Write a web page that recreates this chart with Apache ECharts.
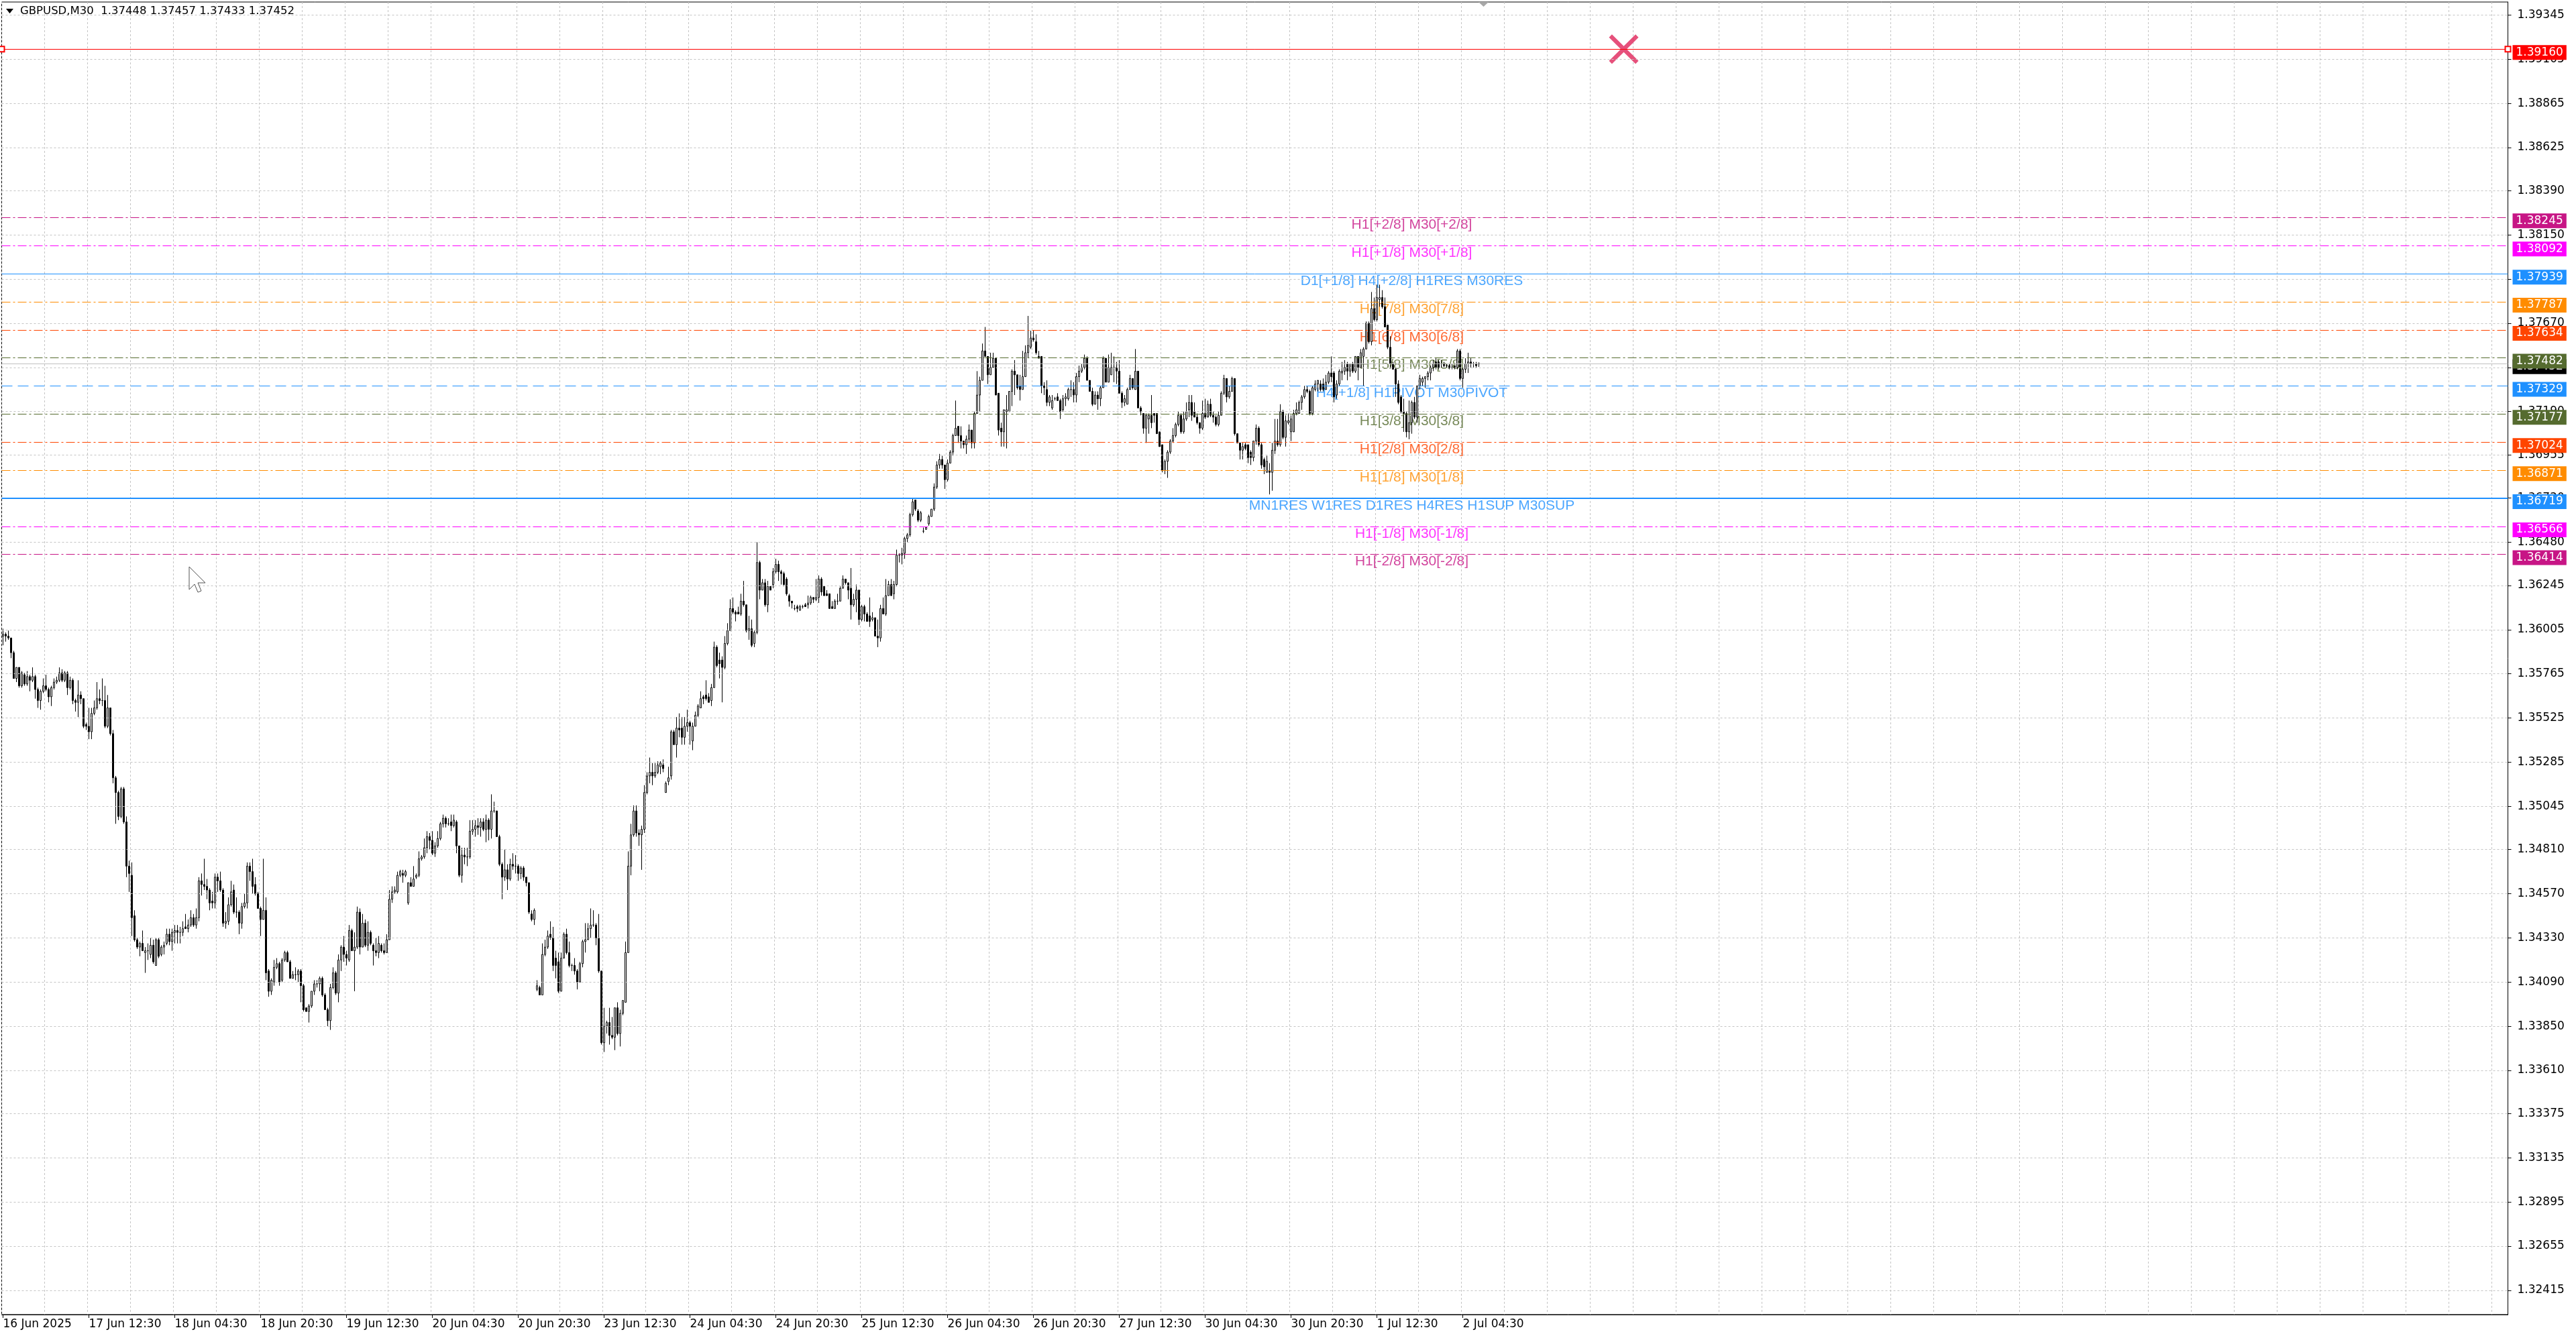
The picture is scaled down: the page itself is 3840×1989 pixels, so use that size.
<!DOCTYPE html>
<html><head><meta charset="utf-8">
<script src="https://cdn.jsdelivr.net/npm/echarts@6/dist/echarts.min.js"></script>
<style>html,body{margin:0;padding:0;background:#fff;overflow:hidden;}#c{width:3840px;height:1989px;}</style>
</head><body><div id="c"></div>
<script>
// ---------------- data ----------------
const symbolName = 'GBPUSD,M30';
const xLabels = ['16 Jun 2025','17 Jun 12:30','18 Jun 04:30','18 Jun 20:30','19 Jun 12:30','20 Jun 04:30','20 Jun 20:30','23 Jun 12:30','24 Jun 04:30','24 Jun 20:30','25 Jun 12:30','26 Jun 04:30','26 Jun 20:30','27 Jun 12:30','30 Jun 04:30','30 Jun 20:30','1 Jul 12:30','2 Jul 04:30'];
const yTickLabels = [1.39345,1.39105,1.38865,1.38625,1.38390,1.38150,1.37910,1.37670,1.37430,1.37190,1.36955,1.36720,1.36480,1.36245,1.36005,1.35765,1.35525,1.35285,1.35045,1.34810,1.34570,1.34330,1.34090,1.33850,1.33610,1.33375,1.33135,1.32895,1.32655,1.32415];
const levelPrices = [1.39160,1.38245,1.38092,1.37939,1.37787,1.37634,1.37482,1.37329,1.37177,1.37024,1.36871,1.36719,1.36566,1.36414];
const levelTexts = ['','H1[+2/8] M30[+2/8]','H1[+1/8] M30[+1/8]','D1[+1/8] H4[+2/8] H1RES M30RES','H1[7/8] M30[7/8]','H1[6/8] M30[6/8]','H1[5/8] M30[5/8]','H4[+1/8] H1PIVOT M30PIVOT','H1[3/8] M30[3/8]','H1[2/8] M30[2/8]','H1[1/8] M30[1/8]','MN1RES W1RES D1RES H4RES H1SUP M30SUP','H1[-1/8] M30[-1/8]','H1[-2/8] M30[-2/8]'];
const bidPrice = 1.37452;
const crossMark = [604, 1.39160];
const levelTextBar = 525;
const totalSlots = 934;
// candles: [open, close, high, low] in pips (price x 10000)
const candles = [
[13597,13598,13601,13592],[13598,13597,13599,13594],[13597,13596,13600,13595],[13596,13588,13596,13585],[13588,13574,13589,13574],[13574,13580,13580,13572],[13580,13570,13580,13569],[13570,13577,13578,13569],[13576,13571,13577,13570],[13571,13575,13578,13570],
[13575,13573,13576,13567],[13573,13575,13580,13572],[13575,13568,13576,13563],[13568,13562,13569,13558],[13562,13567,13568,13557],[13567,13570,13574,13566],[13570,13568,13576,13567],[13568,13564,13569,13561],[13564,13569,13570,13559],[13569,13572,13574,13568],
[13572,13573,13575,13571],[13573,13577,13580,13572],[13577,13573,13579,13572],[13573,13577,13578,13572],[13577,13569,13578,13565],[13569,13573,13575,13568],[13573,13562,13574,13560],[13562,13561,13563,13556],[13561,13565,13573,13553],[13565,13563,13567,13560],
[13563,13548,13563,13547],[13549,13548,13550,13546],[13548,13545,13558,13541],[13545,13555,13558,13541],[13555,13558,13562,13554],[13558,13563,13572,13557],[13563,13562,13568,13560],[13562,13562,13574,13559],[13562,13548,13570,13547],[13548,13558,13565,13547],
[13558,13544,13558,13543],[13544,13520,13546,13517],[13520,13512,13521,13495],[13512,13499,13513,13497],[13499,13514,13515,13498],[13514,13496,13515,13495],[13496,13472,13499,13466],[13472,13468,13475,13458],[13467,13444,13474,13434],[13445,13432,13448,13431],
[13432,13428,13433,13427],[13428,13430,13431,13423],[13430,13426,13437,13426],[13425,13426,13428,13414],[13426,13426,13430,13421],[13424,13429,13433,13422],[13429,13420,13432,13419],[13418,13432,13433,13418],[13432,13423,13433,13422],[13424,13428,13429,13423],
[13428,13429,13431,13424],[13430,13435,13438,13429],[13435,13431,13438,13429],[13431,13436,13438,13426],[13436,13437,13440,13430],[13437,13436,13440,13430],[13436,13436,13439,13430],[13436,13438,13442,13434],[13439,13438,13446,13438],[13438,13440,13443,13436],
[13440,13444,13448,13439],[13444,13440,13446,13439],[13440,13444,13449,13438],[13444,13464,13466,13442],[13464,13462,13468,13456],[13462,13461,13476,13459],[13461,13459,13465,13454],[13459,13452,13460,13448],[13453,13452,13458,13449],[13452,13466,13468,13449],
[13466,13464,13468,13458],[13464,13459,13469,13458],[13459,13441,13460,13439],[13441,13442,13447,13438],[13442,13451,13455,13440],[13451,13458,13464,13450],[13459,13447,13462,13446],[13447,13447,13455,13444],[13447,13441,13448,13435],[13441,13450,13452,13438],
[13450,13452,13457,13449],[13452,13472,13474,13449],[13472,13469,13474,13464],[13469,13461,13476,13457],[13462,13457,13466,13456],[13457,13449,13458,13449],[13449,13443,13450,13434],[13443,13448,13476,13443],[13448,13414,13455,13410],[13415,13404,13416,13401],
[13404,13410,13411,13402],[13409,13417,13421,13407],[13417,13419,13422,13416],[13419,13409,13420,13407],[13410,13421,13422,13409],[13421,13425,13426,13420],[13425,13420,13426,13420],[13420,13411,13421,13411],[13411,13413,13415,13411],[13413,13413,13417,13410],
[13413,13415,13416,13409],[13415,13407,13416,13398],[13407,13394,13408,13393],[13395,13393,13395,13393],[13393,13396,13397,13387],[13396,13404,13404,13395],[13404,13408,13410,13402],[13408,13408,13410,13406],[13408,13411,13412,13404],[13411,13402,13412,13401],
[13402,13394,13403,13394],[13394,13388,13395,13385],[13388,13406,13408,13383],[13406,13414,13417,13405],[13414,13403,13415,13402],[13403,13421,13424,13398],[13421,13428,13429,13415],[13428,13424,13434,13420],[13424,13422,13426,13418],[13421,13437,13440,13420],
[13437,13426,13438,13426],[13426,13428,13436,13404],[13428,13447,13450,13427],[13447,13428,13449,13424],[13428,13441,13446,13428],[13441,13429,13443,13428],[13429,13436,13442,13426],[13436,13430,13437,13429],[13429,13426,13430,13418],[13426,13425,13433,13423],
[13425,13430,13434,13422],[13429,13426,13430,13425],[13426,13425,13430,13424],[13425,13432,13435,13425],[13432,13454,13459,13432],[13454,13458,13461,13452],[13458,13459,13461,13457],[13458,13467,13469,13457],[13467,13469,13470,13466],[13468,13467,13470,13463],
[13467,13469,13470,13466],[13452,13463,13463,13451],[13463,13461,13466,13461],[13461,13465,13472,13461],[13466,13467,13468,13465],[13467,13476,13480,13466],[13476,13477,13478,13475],[13477,13482,13487,13476],[13482,13488,13491,13479],[13488,13486,13490,13481],
[13486,13479,13491,13478],[13479,13483,13485,13477],[13483,13487,13491,13482],[13487,13495,13496,13486],[13495,13498,13500,13493],[13498,13495,13499,13493],[13495,13495,13498,13494],[13496,13494,13500,13491],[13494,13497,13500,13493],[13496,13483,13497,13479],
[13483,13467,13483,13466],[13467,13478,13482,13463],[13478,13477,13482,13473],[13477,13477,13482,13472],[13477,13491,13497,13476],[13491,13492,13497,13489],[13492,13494,13497,13488],[13494,13493,13498,13489],[13493,13496,13498,13488],[13496,13492,13498,13491],
[13492,13497,13500,13485],[13497,13492,13498,13486],[13492,13502,13511,13487],[13502,13502,13507,13501],[13502,13488,13502,13488],[13488,13473,13489,13472],[13473,13466,13474,13454],[13466,13470,13481,13464],[13470,13465,13473,13459],[13465,13473,13476,13464],
[13473,13472,13479,13470],[13472,13472,13478,13468],[13472,13468,13473,13464],[13468,13471,13472,13465],[13471,13466,13472,13464],[13466,13463,13466,13461],[13463,13447,13463,13446],[13446,13443,13448,13442],[13443,13448,13449,13440],[13405,13407,13410,13404],
[13406,13402,13407,13402],[13402,13424,13430,13402],[13424,13428,13432,13423],[13428,13434,13437,13427],[13435,13433,13442,13432],[13433,13418,13439,13415],[13422,13418,13426,13411],[13420,13404,13425,13403],[13404,13422,13425,13404],[13422,13435,13436,13422],
[13435,13425,13438,13424],[13425,13418,13431,13417],[13418,13418,13419,13415],[13418,13415,13422,13413],[13415,13409,13416,13405],[13409,13419,13420,13409],[13419,13431,13432,13417],[13431,13432,13441,13425],[13432,13438,13441,13432],[13438,13440,13449,13433],
[13440,13440,13448,13439],[13440,13433,13441,13429],[13433,13415,13446,13414],[13415,13376,13415,13375],[13376,13385,13395,13371],[13385,13387,13388,13381],[13387,13380,13395,13375],[13380,13379,13390,13378],[13379,13395,13395,13372],[13395,13381,13398,13380],
[13381,13392,13394,13374],[13392,13399,13399,13391],[13398,13425,13431,13398],[13425,13472,13480,13425],[13472,13489,13495,13467],[13489,13502,13505,13488],[13502,13490,13505,13488],[13490,13489,13492,13483],[13489,13492,13494,13470],[13492,13512,13516,13490],
[13512,13521,13523,13511],[13521,13523,13531,13517],[13523,13521,13528,13516],[13521,13523,13528,13520],[13523,13527,13529,13522],[13526,13528,13529,13522],[13527,13525,13530,13523],[13512,13517,13518,13512],[13518,13520,13526,13516],[13521,13545,13546,13519],
[13545,13538,13546,13538],[13538,13547,13553,13531],[13547,13546,13555,13542],[13547,13542,13553,13538],[13542,13548,13553,13538],[13548,13550,13557,13545],[13550,13548,13551,13538],[13540,13548,13550,13535],[13548,13554,13556,13548],[13554,13559,13560,13553],
[13558,13563,13567,13558],[13564,13563,13565,13560],[13565,13563,13573,13562],[13564,13561,13566,13561],[13562,13569,13571,13559],[13569,13591,13594,13569],[13591,13581,13592,13580],[13584,13582,13588,13574],[13584,13580,13586,13561],[13580,13593,13597,13579],
[13593,13600,13604,13592],[13600,13612,13617,13600],[13612,13610,13618,13609],[13610,13609,13611,13605],[13610,13609,13613,13609],[13609,13616,13620,13608],[13616,13614,13627,13613],[13614,13600,13614,13599],[13600,13601,13608,13595],[13601,13592,13606,13591],
[13593,13599,13600,13591],[13599,13637,13648,13598],[13637,13622,13638,13617],[13622,13626,13628,13622],[13626,13614,13628,13613],[13614,13624,13627,13610],[13624,13622,13624,13622],[13625,13632,13634,13623],[13632,13636,13639,13631],[13636,13632,13638,13627],
[13632,13631,13633,13625],[13631,13625,13632,13624],[13628,13620,13629,13619],[13619,13616,13620,13613],[13616,13615,13616,13612],[13612,13612,13614,13611],[13613,13612,13614,13610],[13611,13613,13614,13611],[13613,13613,13614,13612],[13614,13613,13615,13613],
[13614,13615,13619,13612],[13615,13618,13619,13614],[13618,13617,13618,13615],[13617,13618,13628,13616],[13618,13628,13630,13615],[13628,13621,13629,13619],[13624,13619,13624,13619],[13620,13619,13622,13619],[13620,13612,13620,13612],[13613,13612,13616,13612],
[13612,13616,13617,13612],[13616,13616,13620,13614],[13616,13623,13624,13616],[13623,13628,13630,13623],[13628,13626,13628,13625],[13626,13622,13626,13617],[13623,13614,13634,13606],[13614,13617,13620,13613],[13617,13622,13625,13610],[13622,13606,13622,13603],
[13606,13613,13614,13605],[13613,13609,13614,13605],[13609,13605,13610,13605],[13608,13605,13618,13602],[13606,13607,13610,13605],[13607,13597,13607,13597],[13597,13596,13606,13591],[13596,13612,13614,13594],[13612,13609,13618,13609],[13609,13619,13628,13608],
[13619,13625,13627,13619],[13625,13619,13628,13619],[13620,13625,13627,13617],[13625,13641,13644,13624],[13641,13641,13642,13637],[13641,13642,13645,13636],[13642,13650,13651,13639],[13650,13652,13653,13648],[13652,13663,13664,13651],[13663,13670,13672,13662],
[13671,13666,13671,13665],[13665,13660,13666,13659],[13660,13664,13665,13659],[13654,13654,13656,13653],[13655,13656,13656,13655],[13658,13662,13663,13657],[13662,13666,13666,13662],[13666,13678,13680,13665],[13678,13690,13692,13677],[13690,13693,13696,13688],
[13693,13690,13695,13688],[13690,13682,13690,13677],[13682,13691,13693,13681],[13691,13697,13698,13691],[13697,13706,13707,13695],[13706,13710,13725,13706],[13711,13706,13711,13702],[13706,13703,13711,13699],[13703,13701,13703,13699],[13701,13704,13706,13696],
[13704,13709,13712,13702],[13709,13702,13709,13699],[13702,13718,13719,13699],[13718,13728,13741,13718],[13728,13736,13738,13719],[13736,13752,13756,13736],[13752,13749,13765,13749],[13749,13739,13749,13734],[13739,13743,13751,13739],[13743,13748,13751,13743],
[13748,13728,13748,13728],[13729,13709,13729,13706],[13710,13708,13713,13700],[13708,13720,13720,13700],[13719,13720,13728,13699],[13719,13730,13730,13719],[13730,13741,13742,13722],[13741,13739,13747,13728],[13739,13732,13739,13731],[13733,13731,13739,13725],
[13731,13738,13752,13731],[13738,13751,13755,13738],[13751,13755,13771,13748],[13754,13759,13763,13753],[13759,13758,13763,13757],[13757,13751,13761,13750],[13749,13748,13752,13748],[13749,13733,13749,13729],[13733,13732,13735,13728],[13731,13724,13736,13722],
[13724,13727,13728,13722],[13721,13725,13728,13720],[13726,13726,13727,13725],[13727,13725,13729,13725],[13725,13719,13726,13715],[13720,13726,13728,13719],[13726,13727,13729,13722],[13726,13731,13732,13725],[13731,13731,13736,13727],[13731,13728,13735,13724],
[13728,13738,13740,13724],[13738,13741,13744,13735],[13741,13743,13745,13740],[13743,13748,13750,13742],[13748,13736,13749,13736],[13736,13730,13736,13730],[13730,13723,13732,13722],[13723,13728,13730,13723],[13728,13726,13730,13720],[13726,13732,13733,13722],
[13732,13748,13749,13732],[13748,13735,13748,13735],[13735,13743,13750,13735],[13739,13743,13751,13739],[13743,13743,13749,13735],[13743,13741,13746,13734],[13741,13729,13747,13729],[13729,13724,13730,13721],[13724,13726,13728,13722],[13723,13731,13732,13723],
[13731,13737,13739,13731],[13737,13732,13737,13731],[13731,13741,13753,13731],[13741,13721,13741,13721],[13721,13719,13722,13717],[13718,13710,13718,13707],[13710,13717,13718,13702],[13715,13717,13718,13707],[13717,13713,13728,13710],[13718,13717,13718,13713],
[13718,13707,13718,13707],[13708,13700,13708,13700],[13701,13687,13701,13686],[13687,13692,13693,13685],[13692,13697,13698,13683],[13697,13703,13704,13696],[13703,13706,13710,13702],[13706,13712,13713,13705],[13712,13717,13719,13711],[13717,13708,13718,13707],
[13708,13715,13719,13707],[13715,13719,13724,13714],[13720,13724,13728,13716],[13724,13717,13728,13714],[13719,13716,13724,13716],[13716,13713,13718,13712],[13713,13710,13713,13707],[13710,13718,13725,13709],[13718,13716,13726,13715],[13716,13723,13725,13716],
[13723,13717,13726,13716],[13717,13716,13719,13713],[13716,13712,13717,13711],[13712,13717,13719,13711],[13717,13729,13730,13717],[13729,13737,13739,13728],[13737,13727,13737,13724],[13727,13730,13733,13726],[13730,13737,13738,13730],[13737,13707,13737,13706],
[13707,13702,13707,13702],[13702,13698,13702,13693],[13698,13700,13702,13693],[13701,13699,13702,13698],[13701,13694,13701,13691],[13697,13694,13698,13690],[13694,13703,13703,13692],[13703,13710,13712,13701],[13710,13701,13711,13700],[13701,13690,13702,13688],
[13693,13689,13694,13685],[13686,13692,13695,13686],[13687,13686,13691,13674],[13686,13698,13702,13676],[13698,13703,13715,13696],[13703,13701,13715,13700],[13701,13719,13723,13700],[13719,13705,13720,13704],[13705,13714,13717,13700],[13713,13714,13718,13712],
[13708,13715,13717,13703],[13708,13718,13720,13708],[13718,13720,13724,13717],[13718,13724,13725,13718],[13724,13727,13728,13720],[13727,13731,13733,13726],[13731,13730,13733,13729],[13730,13718,13731,13717],[13718,13732,13733,13717],[13731,13734,13736,13730],
[13734,13736,13736,13730],[13734,13731,13736,13730],[13734,13731,13737,13730],[13731,13735,13739,13731],[13735,13740,13741,13734],[13740,13738,13749,13735],[13740,13727,13741,13724],[13728,13734,13736,13726],[13734,13741,13742,13733],[13740,13741,13746,13736],
[13741,13743,13747,13739],[13745,13741,13746,13736],[13741,13745,13745,13738],[13745,13741,13746,13740],[13741,13749,13749,13740],[13749,13743,13749,13736],[13743,13751,13753,13743],[13749,13753,13754,13733],[13753,13767,13768,13753],[13767,13757,13768,13756],
[13757,13775,13784,13755],[13775,13769,13781,13768],[13769,13781,13788,13768],[13780,13781,13788,13776],[13781,13776,13785,13775],[13776,13765,13781,13765],[13766,13754,13766,13753],[13754,13745,13760,13743],[13745,13742,13746,13742],[13742,13734,13743,13727],
[13734,13724,13736,13723],[13727,13719,13728,13718],[13719,13718,13726,13708],[13718,13708,13719,13705],[13708,13713,13725,13704],[13713,13724,13725,13707],[13724,13716,13727,13715],[13716,13733,13733,13713],[13733,13737,13739,13731],[13735,13737,13738,13733],
[13737,13738,13738,13732],[13738,13740,13741,13736],[13740,13743,13744,13736],[13743,13745,13747,13741],[13746,13743,13748,13742],[13746,13743,13747,13742],[13745,13745,13747,13743],[13745,13744,13746,13743],[13744,13744,13745,13743],[13744,13743,13745,13742],
[13743,13743,13745,13742],[13744,13743,13744,13742],[13743,13752,13753,13742],[13752,13737,13753,13736],[13737,13742,13743,13732],[13742,13745,13748,13740],[13745,13746,13751,13740],[13746,13745,13748,13743],[13745,13745,13746,13743],[13745,13744,13746,13743],
[13744.8,13745.2,13745.7,13743.3]
];

// ---------------- styles ----------------
const levelColors = ['#FF0000','#C71585','#FF00FF','#1E90FF','#FF8C00','#FF4500','#556B2F','#1E90FF','#556B2F','#FF4500','#FF8C00','#1E90FF','#FF00FF','#C71585'];
const DASHDOT = [13,4,3,4];
const levelLineTypes = ['solid',DASHDOT,DASHDOT,'solid',DASHDOT,DASHDOT,DASHDOT,[16,8],DASHDOT,DASHDOT,DASHDOT,'solid',DASHDOT,DASHDOT];
const levelLineWidths = [1,1,1,1,1,1,1,1,1,1,1,2,1,1];
const AXIS_FONT = 'DejaVu Sans';
const TEXT_FONT = 'Liberation Sans';
const GRID_COLOR = '#C4C4C4';

// ---------------- build ----------------
const categories = Array.from({length: totalSlots}, (_, i) => String(i));
const candleData = candles.map(([o, c, h, l]) => [o / 1e4, c / 1e4, Math.min(l, o, c) / 1e4, Math.max(h, o, c) / 1e4]);
const last = candles[candles.length - 1];
const header = symbolName + '  ' + [last[0], last[2], last[3], last[1]].map(v => (v / 1e4).toFixed(5)).join(' ');

const yMin = 1.32283, yMax = 1.39416;

const priceLabel = (color, text) => ({
  show: true, position: 'end', distance: 7, formatter: text, offset: [0, 5],
  backgroundColor: color, color: '#fff', padding: [2, 5, 2, 5],
  fontFamily: AXIS_FONT, fontSize: 17, lineHeight: 18
});

// horizontal grid lines at the price-scale ticks
const gridLineData = yTickLabels.map(v => ({
  yAxis: v, lineStyle: {color: GRID_COLOR, type: [3, 3], width: 1}, label: {show: false}
}));

const markLineData = gridLineData.concat([{
  yAxis: bidPrice, lineStyle: {color: '#C0C0C0', type: 'solid', width: 1},
  label: priceLabel('#000', bidPrice.toFixed(5))
}]).concat(levelPrices.map((p, i) => ({
  yAxis: p,
  lineStyle: {color: levelColors[i], type: levelLineTypes[i], width: levelLineWidths[i]},
  label: priceLabel(levelColors[i], p.toFixed(5))
})));

const textData = [];
levelPrices.forEach((p, i) => {
  if (levelTexts[i]) textData.push({name: levelTexts[i], value: [levelTextBar, p], label: {color: levelColors[i]}});
});

const chart = echarts.init(document.getElementById('c'), null, {renderer: 'canvas'});
chart.setOption({
  animation: false,
  backgroundColor: '#fff',
  grid: {left: 2.5, right: 101.5, top: 3, bottom: 29, show: true, borderColor: '#000', borderWidth: 1, backgroundColor: '#fff', containLabel: false, outerBoundsMode: 'none'},
  xAxis: {
    type: 'category', data: categories, boundaryGap: true,
    axisLine: {show: true, lineStyle: {color: '#000', width: 1}},
    axisTick: {show: true, alignWithLabel: true, length: 5, lineStyle: {color: '#000'},
      interval: (i) => i % 32 === 0 && i / 32 < xLabels.length},
    axisLabel: {show: true, align: 'left', margin: 6, color: '#000', fontFamily: AXIS_FONT, fontSize: 17,
      interval: (i) => i % 32 === 0 && i / 32 < xLabels.length,
      formatter: (v, i) => (i % 32 === 0 && xLabels[i / 32]) ? xLabels[i / 32] : ''},
    splitLine: {show: true, interval: (i) => i % 16 === 0, lineStyle: {color: GRID_COLOR, type: [3, 3], width: 1}}
  },
  yAxis: {
    type: 'value', position: 'right', min: yMin, max: yMax,
    axisLine: {show: true, lineStyle: {color: '#000', width: 1}},
    axisTick: {show: true, length: 5, lineStyle: {color: '#000'}, customValues: yTickLabels},
    axisLabel: {show: true, margin: 14, color: '#000', fontFamily: AXIS_FONT, fontSize: 17,
      customValues: yTickLabels,
      formatter: (v) => {
        let best = null;
        for (const t of yTickLabels) if (Math.abs(t - v) < 0.0004) best = t;
        return best === null ? '' : best.toFixed(5);
      }},
    splitLine: {show: false}
  },
  series: [
    {
      type: 'scatter', name: 'levels', data: textData, symbolSize: 1, silent: true,
      itemStyle: {color: 'rgba(0,0,0,0)'},
      label: {show: true, position: 'bottom', distance: 0, formatter: '{b}', fontFamily: TEXT_FONT, fontSize: 21},
      markLine: {silent: true, precision: 6, symbol: ['none', 'none'], animation: false, data: markLineData},
      z: 1
    },
    {
      type: 'candlestick', name: symbolName, data: candleData, barWidth: 2,
      itemStyle: {color: '#fff', color0: '#000', borderColor: '#000', borderColor0: '#000', borderWidth: 1},
      z: 3
    },
    {
      type: 'scatter', name: 'cross', data: [crossMark], silent: true,
      symbol: 'path://M0,1 L1,0 L5,4 L9,0 L10,1 L6,5 L10,9 L9,10 L5,6 L1,10 L0,9 L4,5 Z',
      symbolSize: 44, itemStyle: {color: '#E0245A'},
      markLine: {silent: true, precision: 6, symbol: ['emptyRect', 'emptyRect'], symbolSize: 8, label: {show: false},
        lineStyle: {color: '#FF0000', width: 1, type: 'solid'}, data: [{yAxis: levelPrices[0]}]},
      z: 4
    }
  ],
  graphic: [
    {type: 'polygon', shape: {points: [[9, 13], [20, 13], [14.5, 20]]}, style: {fill: '#000'}, z: 100},
    {type: 'text', x: 30, y: 8, style: {text: header, fill: '#000', font: '16.5px "DejaVu Sans"'}, z: 100},
    {type: 'polygon', shape: {points: [[2204, 3], [2219, 3], [2211.5, 10]]}, style: {fill: '#A8A8A8'}, z: 100},
    {type: 'polygon', shape: {points: [[282, 845], [282, 879], [290, 871], [295, 883], [300, 881], [295, 869], [306, 869]]},
      style: {fill: '#fff', stroke: '#555', lineWidth: 1}, z: 100}
  ]
});
</script>
</body></html>
